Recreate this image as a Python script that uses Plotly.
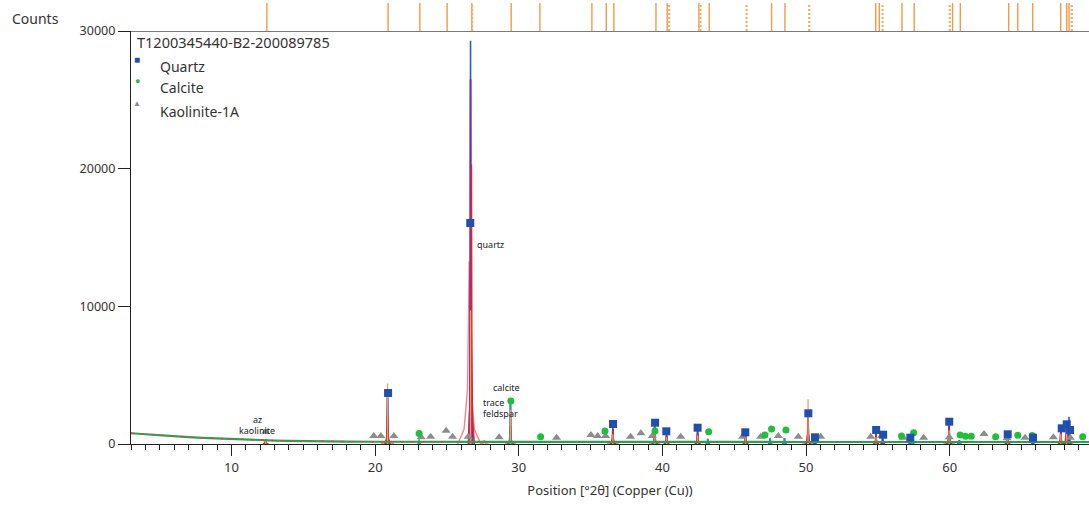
import plotly.graph_objects as go

# ---------------- data ----------------
# background (green) line
BG_X = [3, 4, 5, 6, 7, 8, 9, 10, 11, 12, 13, 14, 15, 16, 18, 20, 25, 30, 40, 50, 60, 69.7]
BG_Y = [780, 700, 630, 565, 505, 450, 400, 355, 315, 280, 250, 225, 205, 190, 175, 165, 155, 150, 145, 145, 145, 145]

# quartz profile (blue)
Q_POS = [20.86, 26.64, 36.55, 39.47, 40.29, 42.45, 45.79, 50.14, 50.62, 54.87, 55.33, 57.24, 59.96, 64.03, 65.79, 67.74, 68.14, 68.31]
Q_H = [3450, 29300, 1250, 1350, 720, 1000, 700, 2050, 300, 800, 500, 280, 1450, 530, 260, 1000, 1250, 1980]

# total calculated profile (purple)
T_POS = [12.38, 20.86, 26.64, 29.42, 36.55, 39.45, 40.29, 42.45, 43.16, 45.79, 47.5, 48.5, 50.14, 54.87, 55.33, 57.4, 59.96, 60.67, 64.03, 67.74, 68.14, 68.31]
T_H = [340, 3350, 26500, 3050, 1100, 1250, 620, 900, 380, 620, 420, 430, 1950, 720, 420, 300, 1350, 280, 470, 900, 1150, 1700]

# observed pattern (red)
R_POS = [12.38, 20.86, 26.70, 29.42, 36.55, 39.47, 40.29, 42.45, 45.79, 50.14, 54.87, 59.96, 64.03, 67.74, 68.14]
R_H = [300, 2000, 20300, 1300, 950, 1050, 550, 800, 550, 1700, 600, 1150, 400, 850, 950]

# broad component (pink)
P_POS = [20.86, 26.55, 27.6, 29.42, 36.55, 39.47, 50.14, 59.96, 68.1]
P_H = [1300, 13300, 280, 700, 500, 550, 900, 650, 700]
P_W = [0.45, 0.8, 0.3, 0.4, 0.4, 0.4, 0.4, 0.4, 0.5]

# calcite profile (teal)
C_POS = [23.06, 29.42, 39.42, 43.16, 47.5, 48.5, 57.4, 60.67]
C_H = [350, 2900, 450, 350, 380, 420, 300, 250]

# reference sticks in the main plot (orange)
O_POS = [12.38, 20.86, 26.64, 29.42, 36.55, 39.47, 40.29, 42.45, 45.79, 50.14, 54.87, 59.96, 64.03, 67.74, 68.14]
O_H = [300, 4400, 9700, 2500, 700, 800, 500, 600, 500, 3250, 500, 1000, 400, 700, 900]

# phase markers
QZ_X = [20.9, 26.62, 36.56, 39.49, 40.27, 42.45, 45.77, 50.16, 50.62, 54.88, 55.37, 57.26, 59.97, 64.04, 65.8, 67.8, 68.15, 68.38]
QZ_Y = [3705, 16053, 1453, 1547, 922, 1184, 850, 2230, 487, 1017, 676, 458, 1620, 705, 458, 1140, 1431, 1017]
CA_X = [23.06, 29.45, 31.52, 36.0, 39.48, 43.22, 47.14, 47.6, 48.6, 56.65, 57.49, 60.73, 61.1, 61.5, 63.2, 64.74, 65.75, 69.26]
CA_Y = [770, 3120, 530, 944, 944, 893, 654, 1090, 1017, 581, 821, 654, 560, 560, 530, 632, 610, 530]
KA_X = [12.37, 19.9, 20.4, 21.3, 23.2, 23.86, 24.94, 25.39, 26.48, 28.63, 32.63, 35.02, 35.49, 36.04, 37.78, 38.5, 39.29,
        41.27, 45.58, 46.84, 48.07, 49.46, 51.02, 54.5, 55.26, 56.77, 58.19, 59.97, 62.39, 64.0, 65.25, 67.22, 68.4]
KA_Y = [893, 581, 581, 581, 486, 530, 955, 530, 530, 486, 458, 654, 581, 581, 530, 775, 581,
        530, 530, 530, 581, 530, 530, 530, 581, 458, 458, 486, 727, 410, 458, 486, 458]

# top strip reference pattern
STICK_SOLID = [12.46, 20.9, 23.11, 25.01, 26.73, 29.47, 31.47, 35.09, 36.09, 36.62, 39.55, 40.33, 42.54, 43.26,
               47.6, 48.53, 54.85, 55.1, 56.68, 57.53, 60.2, 60.74, 64.11, 64.74, 65.78, 67.73, 68.15, 68.31]
STICK_DASH = [26.75, 40.47, 42.66, 45.86, 50.22, 55.33, 60.01, 68.5]

X_TICKS = [10, 20, 30, 40, 50, 60]
Y_TICKS = [0, 10000, 20000, 30000]

# ---------------- style ----------------
FONT = "Noto Sans"
SHAPE_DX = [-1, -0.35, -0.12, 0, 0.12, 0.35, 1]
SHAPE_FY = [0, 0.1, 0.4, 1, 0.4, 0.1, 0]
SHAPE_BROAD_DX = [-1, -0.45, -0.15, -0.04, 0, 0.04, 0.15, 0.45, 1]
SHAPE_BROAD_FY = [0, 0.08, 0.3, 0.75, 1, 0.75, 0.3, 0.08, 0]

W, H = 1089, 505
L, R, T, B = 131, 0, 0, 61
PW, PH = W - L - R, H - T - B
SPLIT = (444 - 31) / PH


def px(x):
    return (x - L) / PW


def py(y):
    return (444 - y) / PH


def spikes(pos, hts, widths, dxs=SHAPE_DX, fys=SHAPE_FY):
    xs, ys = [], []
    for p, h, w in zip(pos, hts, widths):
        for dx, fy in zip(dxs, fys):
            xs.append(p + dx * w)
            ys.append(h * fy)
        xs.append(None)
        ys.append(None)
    return xs, ys


def sticks(pos, hts, base=0):
    xs, ys = [], []
    for p, h in zip(pos, hts):
        xs += [p, p, None]
        ys += [base, h, None]
    return xs, ys


fig = go.Figure()


def add_line(xs, ys, color, width, dash="solid", xaxis="x", yaxis="y"):
    fig.add_trace(go.Scatter(x=xs, y=ys, mode="lines", xaxis=xaxis, yaxis=yaxis,
                             line=dict(color=color, width=width, dash=dash),
                             hoverinfo="skip", showlegend=False))


xs, ys = spikes(P_POS, P_H, P_W, SHAPE_BROAD_DX, SHAPE_BROAD_FY)
add_line(xs, ys, "#f0868c", 1.4)
xs, ys = spikes(Q_POS, Q_H, [0.12] * len(Q_POS))
add_line(xs, ys, "#2b5cc6", 1.6)
xs, ys = spikes(T_POS, T_H, [0.14] * len(T_POS))
add_line(xs, ys, "#7a2e9e", 1.8)
xs, ys = spikes(R_POS, R_H, [0.2] * len(R_POS))
add_line(xs, ys, "#d9253b", 1.6)
xs, ys = spikes(C_POS, C_H, [0.12] * len(C_POS))
add_line(xs, ys, "#1aa39a", 1.4)
xs, ys = sticks(O_POS, O_H)
add_line(xs, ys, "#f4a24a", 1.3)

# background line + observed noise dashes
add_line(BG_X, BG_Y, "#2f9e55", 2.2)
add_line(BG_X[:17], BG_Y[:17], "#c0553a", 1.4, dash="3px,7px")

# markers
fig.add_trace(go.Scatter(x=KA_X, y=KA_Y, mode="markers", hoverinfo="skip", showlegend=False,
                         marker=dict(symbol="triangle-up", size=8, color="#8c8c8c")))
fig.add_trace(go.Scatter(x=CA_X, y=CA_Y, mode="markers", hoverinfo="skip", showlegend=False,
                         marker=dict(symbol="circle", size=7, color="#1fbf3a")))
fig.add_trace(go.Scatter(x=QZ_X, y=QZ_Y, mode="markers", hoverinfo="skip", showlegend=False,
                         marker=dict(symbol="square", size=8, color="#1f4fb0")))

# top strip sticks
xs, ys = sticks(STICK_SOLID, [0.9] * len(STICK_SOLID))
add_line(xs, ys, "#f29a45", 1.4, xaxis="x2", yaxis="y2")
xs, ys = sticks(STICK_DASH, [0.9] * len(STICK_DASH))
add_line(xs, ys, "#f2ad6a", 2.2, dash="2px,2px", xaxis="x2", yaxis="y2")

fig.update_layout(
    width=W, height=H,
    margin=dict(l=L, r=R, t=T, b=B, autoexpand=False),
    paper_bgcolor="white", plot_bgcolor="white",
    font=dict(family=FONT, size=13, color="#333333"),
    xaxis=dict(range=[3.0, 69.7], tickvals=X_TICKS, ticks="outside", ticklen=11, tickwidth=1,
               tickcolor="#222", showline=True, linecolor="#222", linewidth=1.3,
               showgrid=False, zeroline=False, anchor="y",
               minor=dict(dtick=1, ticks="outside", ticklen=5, tickcolor="#222", showgrid=False),
               title=dict(text="Position [°2θ] (Copper (Cu))", font=dict(size=13, color="#333"), standoff=11),
               tickfont=dict(size=13, color="#333")),
    yaxis=dict(domain=[0, SPLIT], range=[0, 30000], tickvals=Y_TICKS, tickformat="d",
               ticks="outside", ticklen=12, tickcolor="#222", showline=True, linecolor="#222",
               linewidth=1.3, showgrid=False, zeroline=False, tickfont=dict(size=12.5, color="#333")),
    yaxis2=dict(domain=[SPLIT, 1], range=[0, 1], showticklabels=False, ticks="", showline=False,
                showgrid=False, zeroline=False, anchor="x2"),
    xaxis2=dict(matches="x", anchor="y2", showline=True, linecolor="#7a7a7a",
                linewidth=1.3, showticklabels=False, ticks="", showgrid=False, zeroline=False),
)

ann = [
    dict(text="Counts", x=px(10), y=py(18), xanchor="left", yanchor="middle", size=14),
    dict(text="T1200345440-B2-200089785", x=px(135), y=py(42), xanchor="left", yanchor="middle", size=14.5),
    dict(text="Quartz", x=px(158), y=py(66), xanchor="left", yanchor="middle", size=14),
    dict(text="Calcite", x=px(158), y=py(88), xanchor="left", yanchor="middle", size=14),
    dict(text="Kaolinite-1A", x=px(158), y=py(111), xanchor="left", yanchor="middle", size=14),
]
for a in ann:
    fig.add_annotation(text=a["text"], xref="paper", yref="paper", x=a["x"], y=a["y"],
                       xanchor=a["xanchor"], yanchor=a["yanchor"], showarrow=False,
                       font=dict(size=a["size"], color="#333"))

# legend symbols
for sym, col, ypx, sz in [("■", "#1f4fb0", 59, 10), ("●", "#1fbf3a", 80, 9), ("▲", "#8c8c8c", 103, 8)]:
    fig.add_annotation(text=sym, xref="paper", yref="paper", x=px(137), y=py(ypx),
                       xanchor="center", yanchor="middle", showarrow=False,
                       font=dict(size=sz, color=col))

# peak labels (data coords)
labels = [
    ("quartz", 26.94, 14455, "left"),
    ("calcite", 29.12, 4140, "center"),
    ("trace", 27.36, 3050, "left"),
    ("feldspar", 27.36, 2180, "left"),
    ("az", 11.84, 1816, "center"),
    ("kaolinite", 11.77, 1017, "center"),
]
for t, x, y, xa in labels:
    fig.add_annotation(text=t, x=x, y=y, xref="x", yref="y", xanchor=xa, yanchor="middle",
                       showarrow=False, font=dict(size=9, color="#222"))

fig.write_html("out.html", config={"displayModeBar": False},
               post_script="document.body.style.margin='0px';")
